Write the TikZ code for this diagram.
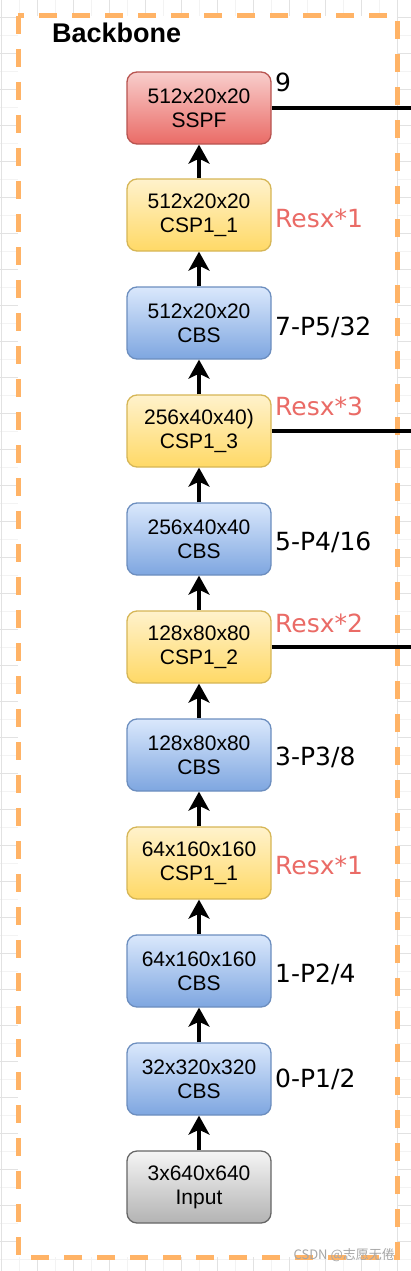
\documentclass[tikz,border=0pt]{standalone}
\usepackage{fontspec}
\setmainfont{Liberation Sans}
\newfontfamily\labfont{DejaVu Sans}
\newfontfamily\cjk{Noto Sans CJK SC}
\usetikzlibrary{arrows.meta}
\definecolor{borderorange}{RGB}{255,179,102}
\definecolor{gridmaj}{RGB}{226,226,226}
\definecolor{gridmin}{RGB}{243,243,243}
\definecolor{blueT}{RGB}{218,232,252}
\definecolor{blueB}{RGB}{126,166,224}
\definecolor{blueS}{RGB}{108,142,191}
\definecolor{yelT}{RGB}{255,242,204}
\definecolor{yelB}{RGB}{255,217,102}
\definecolor{yelS}{RGB}{214,182,86}
\definecolor{redT}{RGB}{248,206,204}
\definecolor{redB}{RGB}{234,107,102}
\definecolor{redS}{RGB}{184,84,80}
\definecolor{grayT}{RGB}{245,245,245}
\definecolor{grayB}{RGB}{179,179,179}
\definecolor{grayS}{RGB}{102,102,102}
\definecolor{resred}{RGB}{234,107,102}
\tikzset{
  box/.style={rounded corners=10pt, minimum width=144pt, minimum height=72pt,
    line width=1.3pt, align=center, inner sep=0pt,
    font=\fontsize{21}{24}\selectfont},
  cbs/.style={box, draw=blueS, top color=blueT, bottom color=blueB},
  csp/.style={box, draw=yelS, top color=yelT, bottom color=yelB},
  sspf/.style={box, draw=redS, top color=redT, bottom color=redB},
  inbox/.style={box, draw=grayS, top color=grayT, bottom color=grayB},
  arr/.style={line width=3.3pt, -{Stealth[length=19pt,width=21pt,inset=5pt]}},
  hline/.style={line width=3.3pt},
  lab/.style={anchor=base west, inner sep=0pt, font=\labfont\fontsize{25}{28}\selectfont},
  reslab/.style={lab, text=resred},
}
\begin{document}
\begin{tikzpicture}[x=1pt,y=-1pt]
\useasboundingbox (0,0) rectangle (411,1271);
% background grid
\foreach \x in {19,55,...,411} \draw[gridmin, line width=0.8pt] (\x,0) -- (\x,1271);
\foreach \y in {35,71,...,1271} \draw[gridmin, line width=0.8pt] (0,\y) -- (411,\y);
\foreach \x in {1,37,...,411} \draw[gridmaj, line width=0.9pt] (\x,0) -- (\x,1271);
\foreach \y in {17,53,...,1271} \draw[gridmaj, line width=0.9pt] (0,\y) -- (411,\y);
% container
\fill[white] (18,16) rectangle (397,1257);
\draw[borderorange, line width=5pt, dash pattern=on 18pt off 15pt] (18,16) rectangle (397,1257);
\node[anchor=base west, inner sep=0pt, font=\bfseries\fontsize{27}{30}\selectfont] (title) at (52,43) {Backbone};
% boxes
\node[sspf] (n9) at (199,108) {512x20x20\\SSPF};
\node[csp] (n8) at (199,215) {512x20x20\\CSP1\_1};
\node[cbs] (n7) at (199,323) {512x20x20\\CBS};
\node[csp] (n6) at (199,431) {256x40x40)\\CSP1\_3};
\node[cbs] (n5) at (199,539) {256x40x40\\CBS};
\node[csp] (n4) at (199,647) {128x80x80\\CSP1\_2};
\node[cbs] (n3) at (199,755) {128x80x80\\CBS};
\node[csp] (n2) at (199,863) {64x160x160\\CSP1\_1};
\node[cbs] (n1) at (199,971) {64x160x160\\CBS};
\node[cbs] (n0) at (199,1079) {32x320x320\\CBS};
\node[inbox] (in) at (199,1187) {3x640x640\\Input};
% arrows
\draw[arr] (in) -- (n0);
\draw[arr] (n0) -- (n1);
\draw[arr] (n1) -- (n2);
\draw[arr] (n2) -- (n3);
\draw[arr] (n3) -- (n4);
\draw[arr] (n4) -- (n5);
\draw[arr] (n5) -- (n6);
\draw[arr] (n6) -- (n7);
\draw[arr] (n7) -- (n8);
\draw[arr] (n8) -- (n9);
% outputs
\coordinate (o9) at (411,108);
\coordinate (o6) at (411,431);
\coordinate (o4) at (411,647);
\draw[hline] (n9.east) -- (o9);
\draw[hline] (n6.east) -- (o6);
\draw[hline] (n4.east) -- (o4);
% labels
\node[lab] (l9) at (275,92) {9};
\node[reslab] (l8) at (275,227) {Resx*1};
\node[lab] (l7) at (275,335) {7-P5/32};
\node[reslab] (l6) at (275,415) {Resx*3};
\node[lab] (l5) at (275,550) {5-P4/16};
\node[reslab] (l4) at (275,632) {Resx*2};
\node[lab] (l3) at (275,765) {3-P3/8};
\node[reslab] (l2) at (275,874) {Resx*1};
\node[lab] (l1) at (275,982) {1-P2/4};
\node[lab] (l0) at (275,1087) {0-P1/2};
% watermark
\node[anchor=east, inner sep=0pt, text=black!35, font=\cjk\fontsize{13}{15}\selectfont] (wm) at (395,1255) {CSDN @志愿无倦};
\end{tikzpicture}
\end{document}
